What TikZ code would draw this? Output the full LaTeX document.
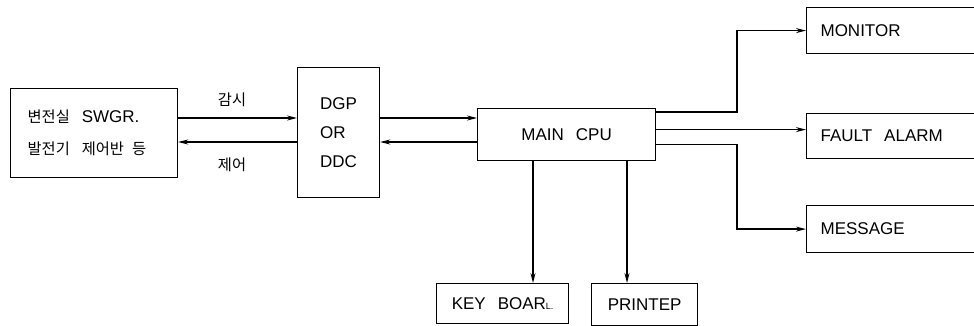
\documentclass[tikz,border=0pt]{standalone}
\usepackage{fontspec}
\setmainfont{Liberation Sans}
\newfontfamily\kr[Scale=0.9]{Noto Sans CJK KR}
\usetikzlibrary{arrows.meta}
\newcommand{\wgap}{\hspace{12pt}}

\begin{document}
\begin{tikzpicture}[
  x=1pt, y=-1pt,
  font=\fontsize{17}{20}\selectfont,
  box/.style={draw=black, line width=1.2pt, anchor=north west, inner sep=0pt},
  outbox/.style={box, inner xsep=14pt, text width=172pt, align=left},
  link/.style={draw=black, line width=1.3pt, -{Stealth[length=10pt,width=5pt]}},
  kor/.style={font=\kr\fontsize{17}{20}\selectfont}
]
\useasboundingbox (0,0) rectangle (974,326);
\clip (0,0) rectangle (974,326);

\node[box, inner xsep=17pt, text width=133pt, minimum height=89pt, align=left] (substation) at (10,88)
  {{\kr 변전실}\wgap SWGR.\\[12pt]{\kr 발전기}\wgap{\kr 제어반}\hspace{8pt}{\kr 등}};
\node[box, minimum width=82pt, minimum height=130pt, align=left] (dgp) at (297,67)
  {DGP\\[9pt]OR\\[9pt]DDC};
\node[box, minimum width=178pt, minimum height=52pt] (cpu) at (477,108) {MAIN\wgap CPU};

\node[outbox, minimum height=46pt] (monitor) at (806,7) {MONITOR};
\node[outbox, minimum height=45pt] (fault) at (806,113) {FAULT\wgap ALARM};
\node[outbox, minimum height=47pt] (message) at (806,205) {MESSAGE};

\node[box, minimum width=132pt, minimum height=40pt] (keyboard) at (436,283) {KEY\wgap BOAR{\small L.}};
\node[box, minimum width=106pt, minimum height=42pt] (printer) at (591,283) {PRINTEP};

\node[kor] (sensetxt) at (232,100) {감시};
\node[kor] (ordertxt) at (232,165) {제어};

\coordinate (sense) at (0,118);
\coordinate (order) at (0,142);
\coordinate (kbtap) at (533,0);
\coordinate (prtap) at (627,0);
\coordinate (split) at (737,0);

\draw[link] (substation.east |- sense) -- (dgp.west |- sense);
\draw[link] (dgp.west |- order) -- (substation.east |- order);
\draw[link] (dgp.east |- sense) -- (cpu.west |- sense);
\draw[link] (cpu.west |- order) -- (dgp.east |- order);

\draw[link] ([yshift=-4pt]cpu.north east) -| (split |- monitor.west) -- (monitor.west);
\draw[link] ([yshift=5pt]cpu.east) -- ([yshift=5pt]cpu.east -| fault.west);
\draw[link] ([yshift=-10pt]cpu.east) -| (split |- message.west) -- (message.west);

\draw[link] (cpu.south -| kbtap) -- (keyboard.north -| kbtap);
\draw[link] (cpu.south -| prtap) -- (printer.north -| prtap);
\end{tikzpicture}
\end{document}
